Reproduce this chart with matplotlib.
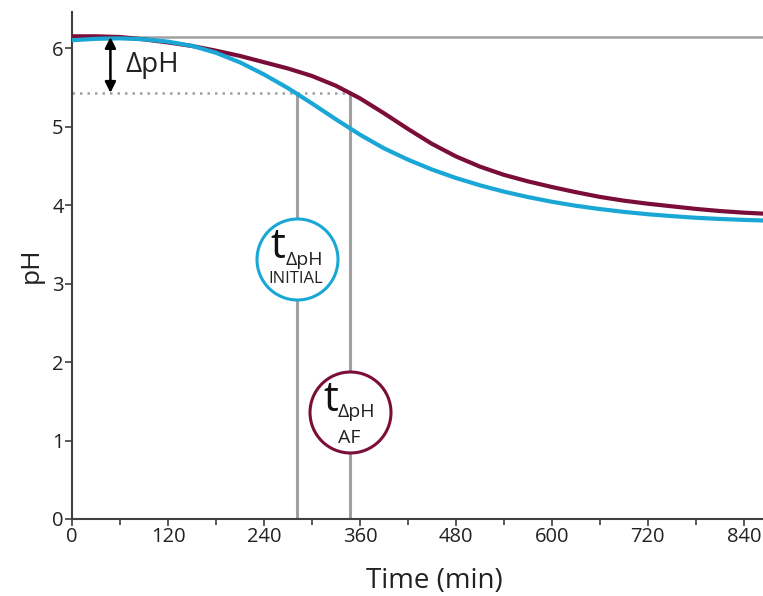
import matplotlib.pyplot as plt
from matplotlib.ticker import MultipleLocator

plt.rcParams['font.family'] = ['Open Sans', 'DejaVu Sans']

# curves every 30 min (time in min, pH)
curve_time = [0, 30, 60, 90, 120, 150, 180, 210, 240, 270, 300, 330, 360, 390, 420,
              450, 480, 510, 540, 570, 600, 630, 660, 690, 720, 750, 780, 810, 840, 862]
af_ph = [6.150, 6.150, 6.141, 6.111, 6.072, 6.027, 5.967, 5.900, 5.820, 5.740, 5.645,
         5.520, 5.360, 5.170, 4.970, 4.780, 4.620, 4.490, 4.385, 4.302, 4.230, 4.164,
         4.104, 4.056, 4.017, 3.984, 3.951, 3.924, 3.903, 3.892]
init_ph = [6.100, 6.118, 6.124, 6.112, 6.082, 6.028, 5.940, 5.818, 5.664, 5.490, 5.295,
           5.092, 4.897, 4.723, 4.579, 4.453, 4.345, 4.252, 4.171, 4.102, 4.042, 3.991,
           3.949, 3.913, 3.883, 3.859, 3.838, 3.823, 3.811, 3.804]

start_ph = 6.14
threshold_ph = 5.43
t_initial = 281
t_af = 347

x_ticks = [0, 120, 240, 360, 480, 600, 720, 840]
y_ticks = [0, 1, 2, 3, 4, 5, 6]

maroon = '#7a0e38'
blue = '#1aa7d6'
grey = '#a0a0a0'
axis_col = '#404040'
txt = '#222222'

fig = plt.figure(figsize=(7.63, 5.96), dpi=100)
ax = fig.add_axes([0.0944, 0.1292, 0.9056, 0.8507])

ax.axhline(start_ph, color=grey, lw=1.8, zorder=1)
ax.plot([0, t_af], [threshold_ph, threshold_ph], color=grey, lw=1.8, ls=(0, (1, 2)), zorder=1)
ax.plot([t_initial, t_initial], [0, threshold_ph], color=grey, lw=2.2, zorder=1)
ax.plot([t_af, t_af], [0, threshold_ph], color=grey, lw=2.2, zorder=1)

ax.plot(curve_time, af_ph, color=maroon, lw=3, zorder=3, solid_joinstyle='round')
ax.plot(curve_time, init_ph, color=blue, lw=3, zorder=4, solid_joinstyle='round')

# delta pH arrow
ax.annotate('', xy=(48, threshold_ph), xytext=(48, start_ph),
            arrowprops=dict(arrowstyle='<|-|>', color='black', lw=1.8,
                            mutation_scale=16, shrinkA=0, shrinkB=0), zorder=5)
ax.text(67, 5.79, 'ΔpH', fontsize=20, va='center', ha='left', color=txt)

# circle labels
ax.scatter([t_initial], [3.31], s=3400, facecolor='white', edgecolor=blue, lw=2.2, zorder=6)
ax.text(t_initial - 24, 3.46, 't', fontsize=30, ha='center', va='center', zorder=7, color='#111111')
ax.text(t_initial + 9, 3.30, 'ΔpH', fontsize=14, ha='center', va='center', zorder=7, color=txt)
ax.text(t_initial - 1, 3.06, 'INITIAL', fontsize=12, ha='center', va='center', zorder=7, color=txt)

ax.scatter([t_af], [1.36], s=3400, facecolor='white', edgecolor=maroon, lw=2.2, zorder=6)
ax.text(t_af - 24, 1.52, 't', fontsize=30, ha='center', va='center', zorder=7, color='#111111')
ax.text(t_af + 9, 1.36, 'ΔpH', fontsize=14, ha='center', va='center', zorder=7, color=txt)
ax.text(t_af, 1.03, 'AF', fontsize=14, ha='center', va='center', zorder=7, color=txt)

ax.set_xlim(0, 864)
ax.set_ylim(0, 6.46)
ax.set_xticks(x_ticks)
ax.set_yticks(y_ticks)
ax.xaxis.set_minor_locator(MultipleLocator(60))
ax.tick_params(axis='both', which='major', direction='out', length=5, width=1.2,
               color=axis_col, labelsize=14.5, labelcolor=txt, pad=1)
ax.tick_params(axis='x', which='minor', direction='out', length=4, width=1.2, color=axis_col)

for side in ['top', 'right']:
    ax.spines[side].set_visible(False)
for side in ['left', 'bottom']:
    ax.spines[side].set_color(axis_col)
    ax.spines[side].set_linewidth(1.5)

ax.set_xlabel('Time (min)', fontsize=20, color=txt)
ax.xaxis.set_label_coords(0.524, -0.095)
ax.set_ylabel('pH', fontsize=19, color=txt, labelpad=6)

fig.savefig('out.png', dpi=100)
